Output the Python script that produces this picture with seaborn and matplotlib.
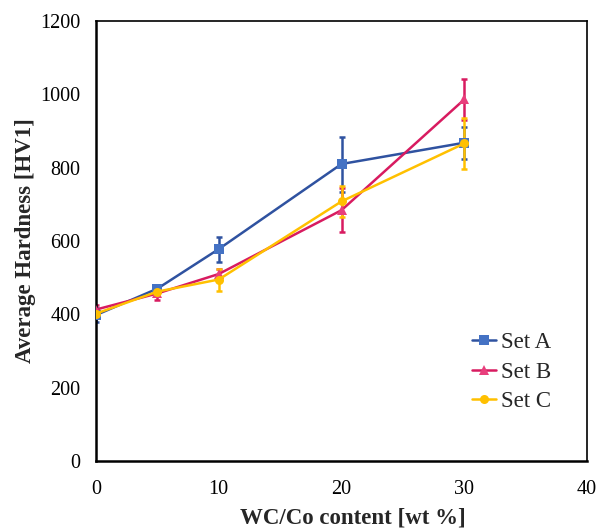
import matplotlib
matplotlib.use("Agg")
import matplotlib.pyplot as plt
import seaborn as sns
import pandas as pd
import numpy as np

content = [0, 5, 10, 20, 30]
set_a = [398, 470, 578, 810, 868]
set_a_err = [20, 10, 34, 75, 43]
set_b = [413, 457, 510, 684, 986]
set_b_err = [12, 18, 15, 60, 57]
set_c = [402, 462, 495, 708, 866]
set_c_err = [10, 10, 30, 42, 69]

sns.set_theme(style="white")
plt.rcParams['font.family'] = ['Liberation Serif', 'DejaVu Serif']

df = pd.DataFrame({
    "x": content * 3,
    "y": set_a + set_b + set_c,
    "err": set_a_err + set_b_err + set_c_err,
    "set": ["Set A"] * 5 + ["Set B"] * 5 + ["Set C"] * 5,
})

colors = {"Set A": "#2F52A0", "Set B": "#D81B60", "Set C": "#FFC000"}
mfc = {"Set A": "#4472C4", "Set B": "#E83E7C", "Set C": "#FFC000"}
markers = {"Set A": "s", "Set B": "^", "Set C": "o"}

fig = plt.figure(figsize=(5.97, 5.28), dpi=100)
ax = fig.add_axes([96/597, 1 - 461/528, (587-96)/597, (461-21)/528])

for name, g in df.groupby("set"):
    ax.errorbar(g["x"], g["y"], yerr=g["err"], fmt="none", ecolor=colors[name],
                elinewidth=1.8, capsize=2.5, capthick=1.8, zorder=2)

sns.lineplot(data=df, x="x", y="y", hue="set", style="set", palette=colors,
             markers=markers, dashes=False, linewidth=1.8, markersize=6.5,
             markeredgewidth=0, ax=ax, zorder=3)

for ln in ax.get_lines():
    c = ln.get_color()
    for k, v in colors.items():
        if matplotlib.colors.same_color(c, v):
            ln.set_markerfacecolor(mfc[k])

ax.set_xlim(0, 40)
ax.set_ylim(0, 1200)
ax.set_xticks([0, 10, 20, 30, 40])
ax.set_yticks(range(0, 1201, 200))
ax.tick_params(length=0, labelsize=14.5, colors="black")
ax.tick_params(axis="x", pad=14)
ax.tick_params(axis="y", pad=11)
for s in ax.spines.values():
    s.set_color("black")
    s.set_linewidth(1.2)
ax.spines["left"].set_linewidth(1.8)
ax.spines["bottom"].set_linewidth(1.8)
ax.set_xlabel("WC/Co content [wt %]", fontsize=16.5, fontweight="bold", labelpad=6)
ax.set_ylabel("Average Hardness [HV1]", fontsize=16.5, fontweight="bold", labelpad=3)
ax.xaxis.label.set_x((353 - 96) / 491)

handles, labels = ax.get_legend_handles_labels()
for h in handles:
    if h.get_label() in mfc:
        h.set_markerfacecolor(mfc[h.get_label()])
ax.legend(handles=handles, labels=labels, loc="upper left", frameon=False,
          fontsize=16.5, handlelength=1.05, handletextpad=0.2, labelspacing=0.37,
          borderpad=0, borderaxespad=0, bbox_to_anchor=((472-96)/491, (461-332)/440))

fig.savefig("out.png", dpi=100)
